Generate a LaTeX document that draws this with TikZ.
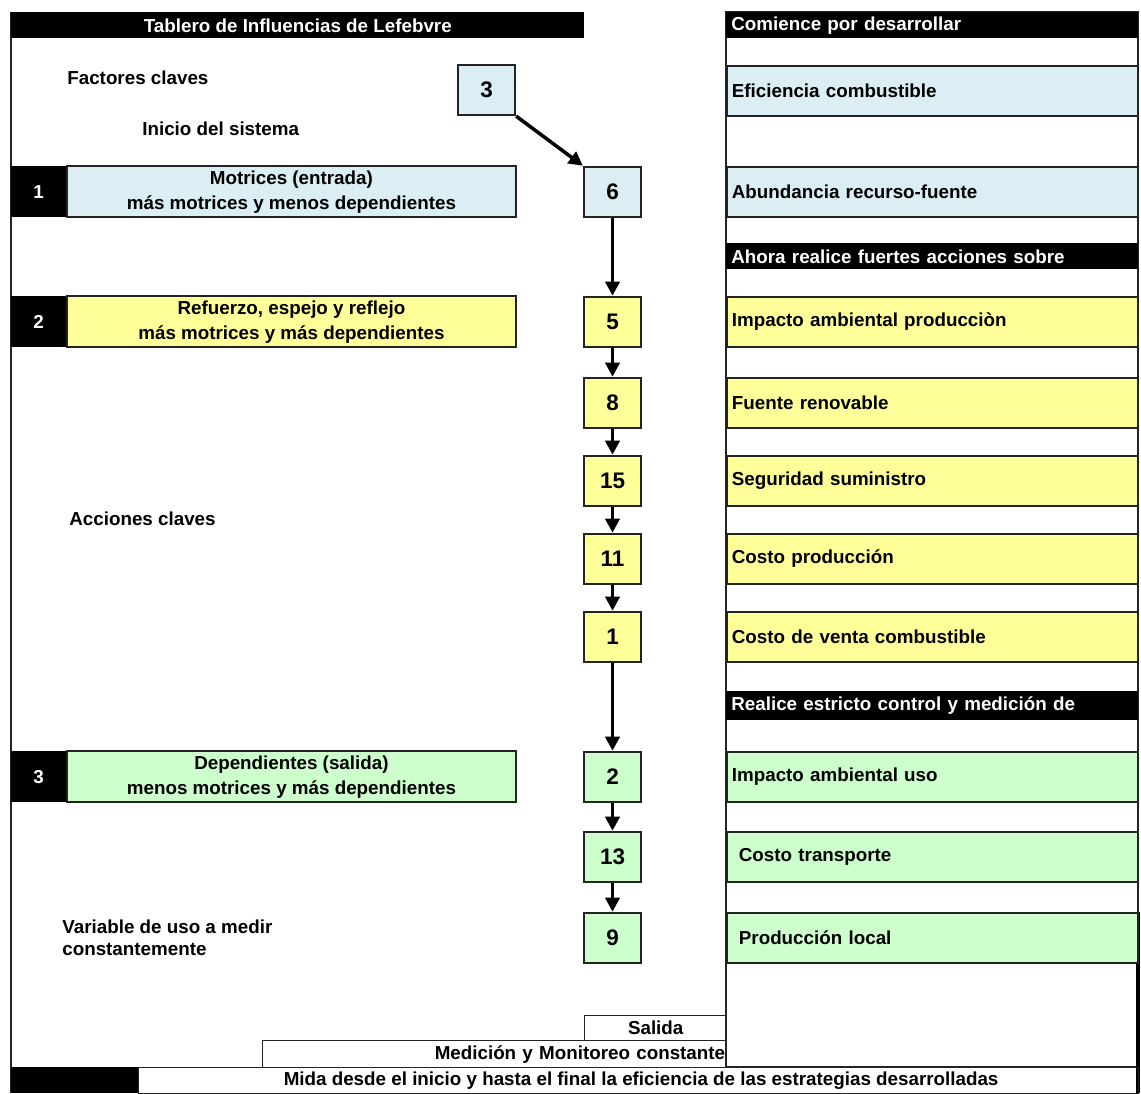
\documentclass[tikz,border=0pt]{standalone}
\usepackage{fontspec}
\setmainfont{Liberation Sans}
\usetikzlibrary{positioning, calc, arrows.meta}
\definecolor{clBlue}  {RGB}{218,238,243}
\definecolor{clYellow}{RGB}{255,255,153}
\definecolor{clGreen} {RGB}{204,255,204}
\definecolor{clLine}  {RGB}{ 35, 35, 35}
\tikzset{
  base/.style={
    font=\fontsize{10.7}{14.2}\selectfont\bfseries, inner sep=0pt
  },
  blackbar/.style={
    base, rectangle, fill=black, text=white, anchor=north west,
    minimum height=0.52cm
  },
  rowhead/.style={
    blackbar, text width=8.04cm, inner xsep=0.1cm, align=left
  },
  rowcell/.style={
    base, rectangle, anchor=north west, draw=clLine, line width=1pt,
    text width=8.02cm, inner xsep=0.1cm, align=left, minimum height=1.0cm
  },
  numbox/.style={
    base, rectangle, draw=clLine, line width=1.3pt,
    font=\fontsize{12.8}{15}\selectfont\bfseries,
    minimum width=1.14cm, minimum height=1.0cm
  },
  tagbox/.style={
    base, rectangle, fill=black, text=white,
    minimum width=1.1cm, minimum height=1.02cm
  },
  groupbox/.style={
    base, rectangle, draw=clLine, line width=1.1pt, align=center,
    minimum width=8.98cm, minimum height=1.02cm, anchor=west
  },
  note/.style={
    base, anchor=west, align=left
  },
  footbox/.style={
    base, rectangle, draw=clLine, line width=0.8pt, anchor=north west
  },
  arr/.style={
    -{Triangle[length=8pt, width=8pt]}, line width=2pt, color=black
  }
}
\begin{document}
\begin{tikzpicture}[x=0.02cm, y=-0.02cm]
    \useasboundingbox (0,0) rectangle (1141,1093);

    % ============================================================
    % FRAME AND HEADERS
    % ============================================================
    \draw [clLine, line width=0.9pt] (11,12) -- (11,1093);
    \draw [clLine, line width=0.8pt] (726,12) rectangle (1138,1067);
    \draw [black, line width=2.2pt] (1138,912) -- (1138,1093);

    \node (hdrLeft) [blackbar, minimum width=11.46cm] at (11,12)
      {Tablero de Influencias de Lefebvre};
    \node (hdrRight) [rowhead] at (726,12) {Comience por desarrollar};

    % ============================================================
    % RIGHT COLUMN (variables)
    % ============================================================
    \node (rEfic) [rowcell, fill=clBlue] at (726,65) {Eficiencia combustible};
    \node (rAbund) [rowcell, fill=clBlue] at (726,166) {Abundancia recurso-fuente};

    \node (hdrStrong) [rowhead] at (726,243) {Ahora realice fuertes acciones sobre};

    \node (rImpProd) [rowcell, fill=clYellow] at (726,296) {Impacto ambiental producciòn};
    \node (rFuente) [rowcell, fill=clYellow] at (726,377) {Fuente renovable};
    \node (rSeg) [rowcell, fill=clYellow] at (726,455) {Seguridad suministro};
    \node (rCostProd) [rowcell, fill=clYellow] at (726,533) {Costo producción};
    \node (rCostVenta) [rowcell, fill=clYellow] at (726,611) {Costo de venta combustible};

    \node (hdrControl) [rowhead, minimum height=0.58cm] at (726,691) {Realice estricto control y medición de};

    \node (rImpUso) [rowcell, fill=clGreen] at (726,751) {Impacto ambiental uso};
    \node (rCostTr) [rowcell, fill=clGreen] at (726,831) {\hspace{4pt}Costo transporte};
    \node (rProdLoc) [rowcell, fill=clGreen] at (726,912) {\hspace{4pt}Producción local};

    % ============================================================
    % NUMBER CHAIN
    % ============================================================
    \node (n3) [numbox, fill=clBlue] at (486.5,90) {3};
    \node (n6) [numbox, fill=clBlue] at (612.5,0 |- rAbund) {6};
    \node (n5) [numbox, fill=clYellow] at (612.5,0 |- rImpProd) {5};
    \node (n8) [numbox, fill=clYellow] at (612.5,0 |- rFuente) {8};
    \node (n15) [numbox, fill=clYellow] at (612.5,0 |- rSeg) {15};
    \node (n11) [numbox, fill=clYellow] at (612.5,0 |- rCostProd) {11};
    \node (n1) [numbox, fill=clYellow] at (612.5,0 |- rCostVenta) {1};
    \node (n2) [numbox, fill=clGreen] at (612.5,0 |- rImpUso) {2};
    \node (n13) [numbox, fill=clGreen] at (612.5,0 |- rCostTr) {13};
    \node (n9) [numbox, fill=clGreen] at (612.5,0 |- rProdLoc) {9};

    % ============================================================
    % LEFT GROUPS AND NOTES
    % ============================================================
    \node (tag1) [tagbox] at (38.5,0 |- rAbund) {1};
    \node (grp1) [groupbox, fill=clBlue] at (66,0 |- rAbund)
      {Motrices (entrada)\\más motrices y menos dependientes};
    \node (tag2) [tagbox] at (38.5,0 |- rImpProd) {2};
    \node (grp2) [groupbox, fill=clYellow] at (66,0 |- rImpProd)
      {Refuerzo, espejo y reflejo\\más motrices y más dependientes};
    \node (tag3) [tagbox] at (38.5,0 |- rImpUso) {3};
    \node (grp3) [groupbox, fill=clGreen] at (66,0 |- rImpUso)
      {Dependientes (salida)\\menos motrices y más dependientes};

    \node (factores) [note] at (67,78) {Factores claves};
    \node (inicio) [note] at (142,129) {Inicio del sistema};
    \node (acciones) [note] at (69,519) {Acciones claves};
    \node (variable) [note, font=\fontsize{10.7}{12.6}\selectfont\bfseries] at (62,938)
      {Variable de uso a medir\\constantemente};

    % ============================================================
    % FOOTER
    % ============================================================
    \node (salida) [footbox, minimum width=2.84cm, minimum height=0.5cm] at (584,1015) {Salida};
    \node (monitoreo) [footbox, minimum width=9.28cm, minimum height=0.54cm,
      text width=9.22cm, align=right] at (262,1040) {Medición y Monitoreo constante};
    \node (footTag) [blackbar, minimum width=2.54cm] at (11,1067) {};
    \node (footNote) [footbox, minimum width=20cm, minimum height=0.52cm] at (138,1067)
      {\hspace{0.1cm}Mida desde el inicio y hasta el final la eficiencia de las estrategias desarrolladas};

    % ============================================================
    % CONNECTIONS
    % ============================================================
    \draw [arr] (n3.south east) -- (n6.north west);
    \draw [arr] (n6) -- (n5);
    \draw [arr] (n5) -- (n8);
    \draw [arr] (n8) -- (n15);
    \draw [arr] (n15) -- (n11);
    \draw [arr] (n11) -- (n1);
    \draw [arr] (n1) -- (n2);
    \draw [arr] (n2) -- (n13);
    \draw [arr] (n13) -- (n9);

\end{tikzpicture}
\end{document}
